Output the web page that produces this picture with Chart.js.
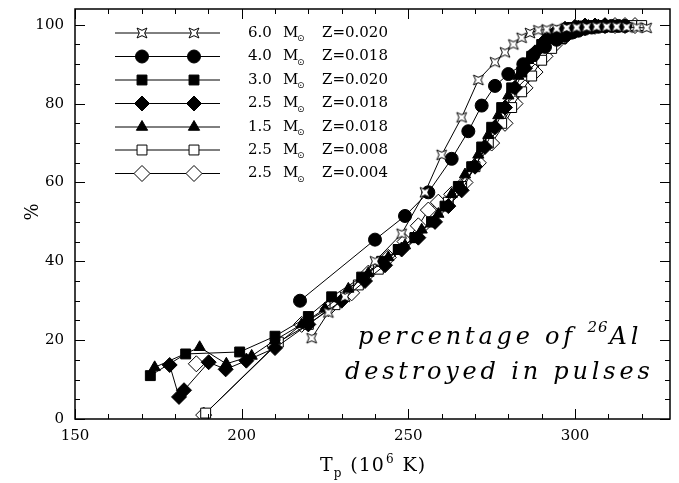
<!DOCTYPE html>
<html>
<head>
<meta charset="utf-8">
<script src="https://cdn.jsdelivr.net/npm/chart.js@4"></script>
<style>
html, body { margin: 0; padding: 0; background: #fff; }
</style>
</head>
<body>
<canvas id="c" width="679" height="483"></canvas>
<script>
// tick values
const xTicks = [150, 200, 250, 300];
const yTicks = [0, 20, 40, 60, 80, 100];

// legend labels
const massLabels = ['6.0', '4.0', '3.0', '2.5', '1.5', '2.5', '2.5'];
const zLabels = ['Z=0.020', 'Z=0.018', 'Z=0.020', 'Z=0.018', 'Z=0.018', 'Z=0.008', 'Z=0.004'];

// 6.0 Msun Z=0.020
const t60 = [221, 226, 231, 240, 248, 255, 260, 266, 271, 276, 279, 281.5, 284, 286.5, 289, 291.5, 294.5, 297.5, 300.5, 303.5, 306.5, 309.5, 312.5, 315.5, 318.5, 321.5];
const p60 = [20.5, 27, 31, 40, 47, 57.5, 67, 76.5, 86, 90.5, 93, 95, 96.7, 97.9, 98.6, 98.8, 99, 99.2, 99.3, 99.4, 99.5, 99.5, 99.5, 99.4, 99.3, 99.2];
// 4.0 Msun Z=0.018
const t40 = [217.5, 240, 249, 256, 263, 268, 272, 276, 280, 284.5, 287.5, 291, 294.5, 297, 299, 301, 303, 305, 307, 309, 311, 313, 315];
const p40 = [30, 45.5, 51.5, 57.5, 66, 73, 79.5, 84.5, 87.5, 90, 92.3, 94.4, 96.2, 97.2, 98, 98.5, 99, 99.3, 99.5, 99.6, 99.7, 99.7, 99.7];
// 3.0 Msun Z=0.020
const t30 = [172.6, 183.2, 199.4, 210, 220, 227, 236, 242, 247, 252, 257, 261, 265, 269, 272, 275, 278, 281, 284, 287, 290, 293, 296, 299, 302, 305, 308, 311];
const p30 = [11, 16.5, 17, 21, 26, 31, 36, 40, 43, 46, 50, 54, 59, 64, 69, 74, 79, 84, 88, 92, 95, 97, 98.5, 99.3, 99.7, 99.8, 99.8, 99.8];
// 2.5 Msun Z=0.018
const t25a = [178.4, 181.2, 182.7, 190.1, 195.2, 201.4, 210, 220, 230, 237, 243, 248, 253, 258, 262, 266, 270, 273, 276, 279, 282, 285, 288, 291, 294, 297, 300, 303, 306, 309];
const p25a = [13.7, 5.6, 7.3, 14.4, 12.6, 14.8, 18, 24, 30, 35, 39, 43, 46, 50, 54, 58, 64, 69, 74, 79, 84, 89, 93, 96, 98, 99, 99.5, 99.8, 99.8, 99.8];
// 1.5 Msun Z=0.018
const t15 = [173.9, 187.4, 195.4, 203, 210, 218, 225, 232, 238, 244, 249, 254, 259, 263, 267, 271, 274, 277, 280, 283, 286, 289, 292, 295, 298, 301, 304, 307];
const p15 = [13.1, 18.2, 14, 16, 20, 24, 28, 33, 37, 41, 44, 48, 52, 57, 62, 67, 72, 77, 82, 87, 91, 94, 96.5, 98, 99, 99.5, 99.7, 99.8];
// 2.5 Msun Z=0.008
const t25b = [189.2, 211, 220, 228, 235, 241, 247, 252, 257, 262, 266, 270, 274, 278, 281, 284, 287, 290, 293, 296, 299, 302, 305, 308, 311, 314, 317, 320];
const p25b = [1.5, 19.5, 24, 29, 34, 38, 43, 46, 50, 55, 59, 64, 70, 75, 79, 83, 87, 91, 94, 96.5, 98, 99, 99.5, 99.7, 99.8, 99.8, 99.8, 99.8];
// 2.5 Msun Z=0.004 (first point stands alone)
const t25c = [186.4, 187.5, 188.6, 210, 218, 226, 233, 238, 244, 249, 253, 256, 259, 263, 267, 271, 275, 279, 282, 285, 288, 291, 294, 297, 300, 303, 306, 309, 312, 315, 318];
const p25c = [14, null, 1, 18.5, 24, 28, 32, 37, 41, 45, 49, 53, 55, 57, 60, 65, 70, 75, 80, 84, 88, 92, 95, 97, 98.5, 99.3, 99.6, 99.8, 99.8, 99.8, 99.8];

// hollow four-point star marker
function makeStar(size) {
    const c = document.createElement('canvas');
    c.width = c.height = size;
    const g = c.getContext('2d');
    const m = size / 2, R = size / 2 - 1, r = R * 0.38;
    g.beginPath();
    for (let i = 0; i < 8; i++) {
        const a = Math.PI / 4 + i * Math.PI / 4;
        const rr = i % 2 === 0 ? R : r;
        const px = m + Math.cos(a) * rr, py = m + Math.sin(a) * rr;
        if (i === 0) g.moveTo(px, py); else g.lineTo(px, py);
    }
    g.closePath();
    g.fillStyle = '#fff';
    g.fill();
    g.strokeStyle = '#000';
    g.lineWidth = 1;
    g.stroke();
    return c;
}
const starImg = makeStar(16);

const series = [
    { t: t60, p: p60, style: starImg, r: 8, fill: '#fff' },
    { t: t40, p: p40, style: 'circle', r: 6.5, fill: '#000' },
    { t: t30, p: p30, style: 'rect', r: 7, fill: '#000' },
    { t: t25a, p: p25a, style: 'rectRot', r: 7.5, fill: '#000' },
    { t: t15, p: p15, style: 'triangle', r: 6.5, fill: '#000' },
    { t: t25b, p: p25b, style: 'rect', r: 7, fill: '#fff' },
    { t: t25c, p: p25c, style: 'rectRot', r: 8, fill: '#fff' }
];

const datasets = series.map(s => ({
    data: s.t.map((x, i) => ({ x: x, y: s.p[i] })),
    borderColor: '#000',
    borderWidth: 1,
    pointStyle: s.style,
    pointRadius: s.r,
    pointBackgroundColor: s.fill,
    pointBorderColor: '#000',
    pointBorderWidth: 1,
    showLine: true,
    spanGaps: false,
    tension: 0
}));

// draw text piece by piece, returning the new x
function put(ctx, text, x, y, font, spacing) {
    ctx.font = font;
    ctx.letterSpacing = (spacing || 0) + 'px';
    ctx.fillText(text, x, y);
    return x + ctx.measureText(text).width;
}

// frame, inward ticks, titles, legend and annotation
const decor = {
    id: 'decor',
    afterDraw(chart) {
        const ctx = chart.ctx;
        const a = chart.chartArea;
        const xs = chart.scales.x, ys = chart.scales.y;
        ctx.save();
        ctx.strokeStyle = '#000';
        ctx.lineWidth = 1.5;
        ctx.strokeRect(a.left, a.top, a.right - a.left, a.bottom - a.top);

        ctx.lineWidth = 1;
        ctx.beginPath();
        for (let v = 150; v <= 328; v += 10) {
            const px = Math.round(xs.getPixelForValue(v)) + 0.5;
            const len = v % 50 === 0 ? 10 : 5;
            ctx.moveTo(px, a.bottom); ctx.lineTo(px, a.bottom - len);
            ctx.moveTo(px, a.top); ctx.lineTo(px, a.top + len);
        }
        for (let v = 0; v <= 104; v += 5) {
            const py = Math.round(ys.getPixelForValue(v)) + 0.5;
            const len = v % 20 === 0 ? 10 : 5;
            ctx.moveTo(a.left, py); ctx.lineTo(a.left + len, py);
            ctx.moveTo(a.right, py); ctx.lineTo(a.right - len, py);
        }
        ctx.stroke();

        ctx.fillStyle = '#000';
        // y title
        ctx.save();
        ctx.translate(33, 212);
        ctx.rotate(-Math.PI / 2);
        ctx.font = '18px "DejaVu Serif"';
        ctx.textAlign = 'center';
        ctx.textBaseline = 'middle';
        ctx.fillText('%', 0, 0);
        ctx.restore();

        // x title
        ctx.textBaseline = 'alphabetic';
        ctx.textAlign = 'left';
        let x = 320;
        x = put(ctx, 'T', x, 471, '19px "DejaVu Serif"', 1);
        x = put(ctx, 'p', x, 477, '12px "DejaVu Serif"', 0) + 9;
        x = put(ctx, '(10', x, 471, '19px "DejaVu Serif"', 1);
        x = put(ctx, '6', x + 1, 463, '12px "DejaVu Serif"', 0) + 9;
        put(ctx, 'K)', x, 471, '19px "DejaVu Serif"', 1);

        // legend
        const rowY = [33, 56.5, 80, 103.5, 127, 150, 173.5];
        series.forEach((s, i) => {
            const y = rowY[i];
            ctx.strokeStyle = '#000';
            ctx.lineWidth = 1;
            ctx.beginPath();
            ctx.moveTo(115, y); ctx.lineTo(220, y);
            ctx.stroke();
            [142, 194].forEach(mx => {
                ctx.fillStyle = s.fill;
                ctx.strokeStyle = '#000';
                ctx.lineWidth = 1;
                Chart.helpers.drawPoint(ctx, { pointStyle: s.style, radius: s.r, rotation: 0, borderWidth: 1 }, mx, y);
            });
            ctx.fillStyle = '#000';
            ctx.textBaseline = 'middle';
            put(ctx, massLabels[i], 248, y, '15px "DejaVu Serif"', 0);
            put(ctx, 'M', 283, y, '15px "DejaVu Serif"', 0);
            put(ctx, '\u2299', 297, y + 6, '9px "DejaVu Sans"', 0);
            put(ctx, zLabels[i], 322, y, '15px "DejaVu Serif"', 0);
        });

        // annotation
        ctx.textBaseline = 'alphabetic';
        let ax = 358;
        ax = put(ctx, 'percentage of ', ax, 344, 'italic 24px "DejaVu Serif"', 3.8);
        ax = put(ctx, '26', ax, 332, 'italic 15px "DejaVu Serif"', 1) + 1;
        put(ctx, 'Al', ax, 344, 'italic 24px "DejaVu Serif"', 3.8);
        put(ctx, 'destroyed in pulses', 345, 379, 'italic 24px "DejaVu Serif"', 3.8);
        ctx.restore();
    }
};

function noPad(s) {
    s.paddingTop = 0; s.paddingBottom = 0; s.paddingLeft = 0; s.paddingRight = 0;
}

new Chart(document.getElementById('c'), {
    type: 'scatter',
    data: { datasets: datasets },
    options: {
        responsive: false,
        animation: false,
        layout: { padding: { left: 0, right: 9, top: 5, bottom: 0 } },
        plugins: { legend: { display: false }, tooltip: { enabled: false } },
        scales: {
            x: {
                type: 'linear',
                min: 150,
                max: 328.5,
                afterFit: s => { s.height = 64; noPad(s); },
                afterBuildTicks: s => { s.ticks = xTicks.map(v => ({ value: v })); },
                grid: { display: false, drawTicks: false },
                border: { display: false },
                ticks: { color: '#000', padding: 8, maxRotation: 0, font: { family: 'DejaVu Serif', size: 15 } }
            },
            y: {
                type: 'linear',
                min: 0,
                max: 104,
                afterFit: s => { s.width = 75; noPad(s); },
                afterBuildTicks: s => { s.ticks = yTicks.map(v => ({ value: v })); },
                grid: { display: false, drawTicks: false },
                border: { display: false },
                ticks: { color: '#000', padding: 11, font: { family: 'DejaVu Serif', size: 15 } }
            }
        }
    },
    plugins: [decor]
});
</script>
</body>
</html>
